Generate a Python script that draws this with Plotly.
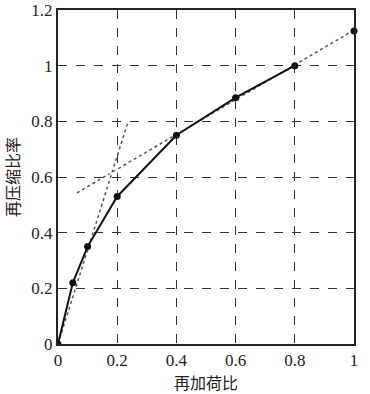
import plotly.graph_objects as go

# measured curve
reload_ratio = [0, 0.05, 0.1, 0.2, 0.4, 0.6, 0.8]
recomp_ratio = [0, 0.22, 0.35, 0.53, 0.75, 0.885, 1.0]
# extra point on the fitted line
end_x = [1.0]
end_y = [1.125]
# tangent lines (dotted)
steep_x = [0, 0.237]
steep_y = [0, 0.8]
flat_x = [0.064, 1.0]
flat_y = [0.543, 1.128]
# intersection marker
cross_x = [0.187]
cross_y = [0.62]

x_ticks = [0, 0.2, 0.4, 0.6, 0.8, 1]
y_ticks = [0, 0.2, 0.4, 0.6, 0.8, 1, 1.2]

fig = go.Figure()
fig.add_trace(go.Scatter(x=steep_x, y=steep_y, mode="lines",
                         line=dict(color="#555", width=1.5, dash="dot")))
fig.add_trace(go.Scatter(x=flat_x, y=flat_y, mode="lines",
                         line=dict(color="#555", width=1.5, dash="dot")))
fig.add_trace(go.Scatter(x=reload_ratio, y=recomp_ratio, mode="lines+markers",
                         line=dict(color="#111", width=2),
                         marker=dict(color="#111", size=7)))
fig.add_trace(go.Scatter(x=end_x, y=end_y, mode="markers", cliponaxis=False,
                         marker=dict(color="#111", size=7)))
fig.add_trace(go.Scatter(x=cross_x, y=cross_y, mode="markers",
                         marker=dict(color="white", size=7, symbol="triangle-up-open",
                                     line=dict(color="#333", width=1))))

serif = "Liberation Serif"
axis_common = dict(showline=True, linecolor="#222", linewidth=2, mirror=True,
                   showgrid=True, gridcolor="#333", griddash="dash", gridwidth=1,
                   zeroline=False, ticks="", automargin=False,
                   tickfont=dict(family=serif, size=17, color="#222"))

title_font = dict(family="Noto Sans CJK SC", size=16, color="#222")

fig.update_layout(
    width=370, height=394,
    margin=dict(l=58, r=16, t=10, b=50),
    plot_bgcolor="white", paper_bgcolor="white",
    font=dict(family=serif),
    showlegend=False,
    xaxis=dict(range=[0, 1], tickvals=x_ticks, **axis_common),
    yaxis=dict(range=[0, 1.2], tickvals=y_ticks, **axis_common),
    annotations=[
        dict(text="再加荷比", xref="paper", yref="paper", x=0.5, y=-0.114,
             xanchor="center", yanchor="middle", showarrow=False, font=title_font),
        dict(text="再压缩比率", xref="paper", yref="paper", x=-0.155, y=0.5,
             xanchor="center", yanchor="middle", showarrow=False, textangle=-90,
             font=title_font),
    ],
)

fig.write_html("out.html", config={"displayModeBar": False},
               post_script="document.body.style.margin='0';document.body.style.padding='0';")
